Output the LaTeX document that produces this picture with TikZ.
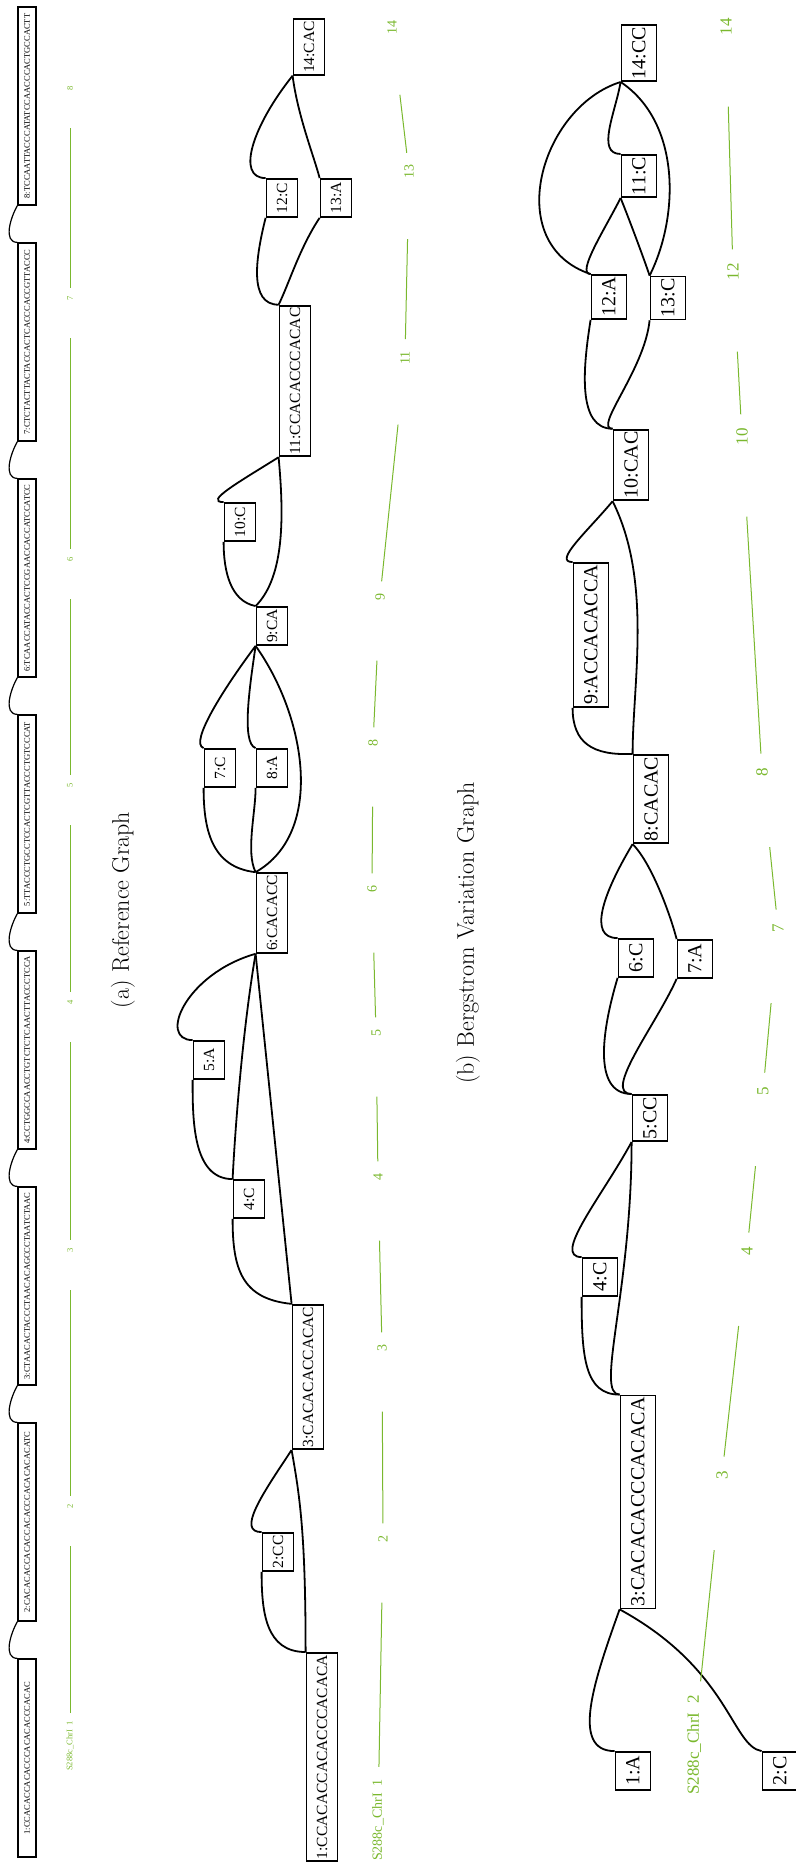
\documentclass[tikz,border=0pt]{standalone}
\usepackage{fontspec}
\newfontfamily\seqfont{Liberation Serif}
\definecolor{trackgreen}{RGB}{122,184,46}

\begin{document}
\begin{tikzpicture}[x=1pt, y=1pt,
    seqa/.style={draw, line width=1.8pt, rotate=90, font={\seqfont\fontsize{15.5}{15.5}\selectfont},
                 inner xsep=2pt, inner ysep=0pt, minimum height=31pt, minimum width=38pt},
    seqb/.style={draw, line width=1.8pt, rotate=90, font={\seqfont\fontsize{20}{20}\selectfont},
                 inner xsep=2pt, inner ysep=0pt, minimum height=35pt, minimum width=38pt},
    refseq/.style={draw, line width=1.2pt, rotate=90, font={\seqfont\fontsize{8.5}{8.5}\selectfont},
                   inner sep=0pt, minimum width=198pt, minimum height=18pt},
    lnk/.style={line width=1.8pt},
    reflnk/.style={line width=1.2pt},
    trk/.style={text=trackgreen, rotate=90, inner sep=0pt, font={\seqfont\fontsize{#1}{#1}\selectfont}},
    trk/.default=14,
    trkline/.style={draw=trackgreen, line width=1pt},
    captxt/.style={rotate=90, font=\fontsize{24}{24}\selectfont},
  ]
  \useasboundingbox (0,0) rectangle (795,1865);

  % reference path, one box per 32 bases
  \foreach \i/\s in {1/CCACACCACACCCACACACCCACAC, 2/CACACACCACACCACACCCACACACACATC,
                     3/CTAACACTACCCTAACACAGCCCTAATCTAAC, 4/CCTGGCCAACCTGTCTCTCAACTTACCCTCCA,
                     5/TTACCCTGCCTCCACTCGTTACCCTGTCCCAT, 6/TCAACCATACCACTCCGAACCACCATCCATCC,
                     7/CTCTACTTACTACCACTCACCCACCGTTACCC, 8/TCCAATTACCCATATCCAACCCACTGCCACTT}
    \node[refseq] (s\i) at (27, {107+(\i-1)*236}) {\i:\s};
  \foreach \i [count=\j from 2] in {1,...,7}
    \draw[reflnk] (s\i.north east) to[out=180, in=240] (s\j.north west);

  \node[trk=8.5] (p1) at (70,119) {S288c\_ChrI\ \ 1};
  \foreach \n/\y in {2/359, 3/615, 4/863, 5/1080, 6/1306, 7/1567, 8/1777}
    \node[trk=8.5] (p\n) at (70,\y) {\n};
  \foreach \u [count=\v from 2] in {1,...,7}
    \draw[trkline, shorten <=8pt, shorten >=38pt] (p\u) -- (p\v);

  % (a) reference graph
  \node[seqa] (a1) at (322,108) {1:CCACACCACACCCACACA};
  \node[seqa] (a2) at (278,313) {2:CC};
  \node[seqa] (a3) at (308,488) {3:CACACACCACAC};
  \node[seqa] (a4) at (249,666) {4:C};
  \node[seqa] (a5) at (209,805) {5:A};
  \node[seqa] (a6) at (272,952) {6:CACACC};
  \node[seqa] (a7) at (220,1097) {7:C};
  \node[seqa] (a8) at (272,1097) {8:A};
  \node[seqa] (a9) at (272,1239) {9:CA};
  \node[seqa] (a10) at (240,1343) {10:C};
  \node[seqa] (a11) at (295,1484) {11:CCACACCCACAC};
  \node[seqa] (a12) at (282,1667) {12:C};
  \node[seqa] (a13) at (336,1667) {13:A};
  \node[seqa] (a14) at (309,1818) {14:CAC};

  \draw[lnk] (a1.north east) .. controls +(-40,0) and +(0,-40) .. (a2.north west);
  \draw[lnk] (a1.north east) .. controls +(0,120) and +(8,-45) .. (a3.north west);
  \draw[lnk] (a2.north east) .. controls +(-25,0) and +(-30,-45) .. (a3.north west);
  \draw[lnk] (a3.north east) .. controls +(-50,5) and +(0,-50) .. (a4.north west);
  \draw[lnk] (a3.north east) -- (a6.north west);
  \draw[lnk] (a4.north east) .. controls +(3,60) and +(-12,-70) .. (a6.north west);
  \draw[lnk] (a4.north east) .. controls +(-40,0) and +(0,-40) .. (a5.north west);
  \draw[lnk] (a5.north east) .. controls +(-35,0) and +(-70,-20) .. (a6.north west);
  \draw[lnk] (a6.north east) .. controls +(-45,5) and +(0,-40) .. (a7.north west);
  \draw[lnk] (a6.north east) .. controls +(-10,20) and +(0,-25) .. (a8.north west);
  \draw[lnk] (a6.north east) .. controls +(70,40) and +(50,-70) .. (a9.north west);
  \draw[lnk] (a7.north east) .. controls +(-15,5) and +(-30,-40) .. (a9.north west);
  \draw[lnk] (a8.north east) .. controls +(-15,5) and +(-5,-35) .. (a9.north west);
  \draw[lnk] (a9.north east) .. controls +(-25,5) and +(0,-30) .. (a10.north west);
  \draw[lnk] (a9.north east) .. controls +(30,30) and +(5,-55) .. (a11.north west);
  \draw[lnk] (a10.north east) .. controls +(-20,0) and +(-40,-25) .. (a11.north west);
  \draw[lnk] (a11.north east) .. controls +(-30,0) and +(-10,-40) .. (a12.north west);
  \draw[lnk] (a11.north east) .. controls +(10,20) and +(-20,-30) .. (a13.north west);
  \draw[lnk] (a12.north east) .. controls +(-30,0) and +(-40,-50) .. (a14.north west);
  \draw[lnk] (a13.north east) .. controls +(-5,20) and +(5,-40) .. (a14.north west);

  \node[trk] (la1) at (378,45) {S288c\_ChrI\ \ 1};
  \foreach \n/\x/\y in {2/383/326, 3/382/517, 4/378/688, 5/376/832, 6/372/976,
                        8/373/1122, 9/380/1268, 11/405/1507, 13/409/1693, 14/392/1837}
    \node[trk] (la\n) at (\x,\y) {\n};
  \foreach \u/\v in {1/2, 2/3, 3/4, 4/5, 5/6, 6/8, 8/9, 9/11, 11/13, 13/14}
    \draw[trkline, shorten <=12pt, shorten >=60pt] (la\u) -- (la\v);

  \node[captxt] (capa) at (123,955) {(a) Reference Graph};

  % (b) Bergstrom variation graph
  \node[seqb] (b1) at (633,94) {1:A};
  \node[seqb] (b2) at (780,94) {2:C};
  \node[seqb] (b3) at (638,363) {3:CACACACCCACACA};
  \node[seqb] (b4) at (600,588) {4:C};
  \node[seqb] (b5) at (650,747) {5:CC};
  \node[seqb] (b6) at (636,907) {6:C};
  \node[seqb] (b7) at (695,906) {7:A};
  \node[seqb] (b8) at (651,1066) {8:CACAC};
  \node[seqb] (b9) at (591,1230) {9:ACCACACCA};
  \node[seqb] (b10) at (631,1400) {10:CAC};
  \node[seqb] (b11) at (639,1689) {11:C};
  \node[seqb] (b12) at (609,1568) {12:A};
  \node[seqb] (b13) at (668,1567) {13:C};
  \node[seqb] (b14) at (639,1812) {14:CC};

  \draw[lnk] (b1.north east) .. controls +(-45,0) and +(-25,-70) .. (b3.north west);
  \draw[lnk] (b2.north east) .. controls +(-30,5) and +(110,-60) .. (b3.north west);
  \draw[lnk] (b3.north east) .. controls +(-35,0) and +(0,-60) .. (b4.north west);
  \draw[lnk] (b3.north east) .. controls +(-25,0) and +(0,-150) .. (b5.north west);
  \draw[lnk] (b4.north east) .. controls +(-30,0) and +(-30,-55) .. (b5.north west);
  \draw[lnk] (b5.north east) .. controls +(-40,0) and +(-15,-50) .. (b6.north west);
  \draw[lnk] (b5.north east) .. controls +(-30,0) and +(-20,-45) .. (b7.north west);
  \draw[lnk] (b6.north east) .. controls +(-30,0) and +(-30,-50) .. (b8.north west);
  \draw[lnk] (b7.north east) .. controls +(-5,20) and +(20,-20) .. (b8.north west);
  \draw[lnk] (b8.north east) .. controls +(-40,-2) and +(0,-35) .. (b9.north west);
  \draw[lnk] (b8.north east) .. controls +(0,70) and +(40,-80) .. (b10.north west);
  \draw[lnk] (b9.north east) .. controls +(-20,0) and +(-25,-30) .. (b10.north west);
  \draw[lnk] (b10.north east) .. controls +(-35,0) and +(-8,-50) .. (b12.north west);
  \draw[lnk] (b10.north east) .. controls +(-20,0) and +(-5,-50) .. (b13.north west);
  \draw[lnk] (b12.north east) .. controls +(-15,0) and +(-15,-30) .. (b11.north west);
  \draw[lnk] (b13.north east) .. controls +(-5,15) and +(10,-25) .. (b11.north west);
  \draw[lnk] (b12.north east) .. controls +(-90,30) and +(-80,-25) .. (b14.north west);
  \draw[lnk] (b11.north east) .. controls +(-25,0) and +(-5,-30) .. (b14.north west);
  \draw[lnk] (b13.north east) .. controls +(30,60) and +(60,-40) .. (b14.north west);

  \node[trk=17] (lb1) at (694,120) {S288c\_ChrI\ \ 2};
  \foreach \n/\x/\y in {3/722/390, 4/747/614, 5/763/774, 7/778/937, 8/762/1093,
                        10/742/1428, 12/733/1593, 14/726/1838}
    \node[trk=17] (lb\n) at (\x,\y) {\n};
  \foreach \u/\v in {1/3, 3/4, 4/5, 5/7, 7/8, 8/10, 10/12, 12/14}
    \draw[trkline, shorten <=14pt, shorten >=71pt] (lb\u) -- (lb\v);

  \node[captxt] (capb) at (468,932) {(b) Bergstrom Variation Graph};
\end{tikzpicture}
\end{document}
